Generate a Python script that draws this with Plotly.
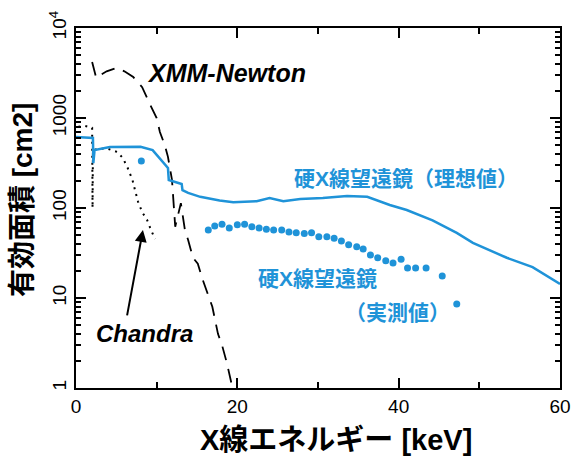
import plotly.graph_objects as go

# --- data ---
ideal_x = [0, 2.1, 2.15, 2.3, 4.2, 8.0, 9.5, 10.5, 11.4, 11.5, 13.1, 13.2, 13.9, 15.4, 17.8, 19.5,
           22.4, 24.0, 25.7, 27.8, 30.6, 33.6, 36.1, 38.9, 41.0, 44.2, 47.2, 49.2, 53.4, 56.6, 60.0]
ideal_y = [615, 600, 315, 440, 475, 480, 440, 340, 278, 205, 185, 158, 147, 133, 121, 116,
           119, 129, 119, 126, 129, 136, 133, 108, 95, 73, 53, 41, 28, 22, 14.3]

meas_x = [8.1, 16.4, 17.2, 18.1, 19.0, 20.0, 20.9, 21.8, 22.7, 23.6, 24.5, 25.5, 26.4, 27.3, 28.3,
          29.2, 30.1, 31.1, 32.0, 32.9, 33.8, 34.8, 35.6, 36.5, 37.4, 38.4, 39.3, 40.3, 41.1, 42.1,
          43.4, 45.4, 47.2]
meas_y = [332, 57, 63, 66, 60, 65, 66, 62, 60, 58, 57, 57, 54, 53, 52,
          53, 48, 48, 46, 43, 39, 37, 35, 30, 28, 26, 24.5, 27, 21.5, 21.5,
          21.5, 17.6, 8.6]

xmm_x = [2.0, 2.5, 3.0, 3.8, 5.0, 6.0, 7.1, 8.2, 9.2, 10.0, 10.4, 11.0, 11.4, 11.9, 12.3,
         13.0, 13.5, 13.9, 14.5, 15.1, 15.7, 16.2, 16.9, 17.6, 18.1, 18.7, 19.1, 19.4]
xmm_y = [4200, 2800, 3000, 3300, 3600, 3300, 2850, 2200, 1400, 1000, 700, 500, 370, 205, 62,
         113, 57, 44, 28, 24, 16, 12, 8, 4, 3, 1.9, 1.3, 1.0]

chandra_x = [0.3, 1.0, 1.5, 2.0, 2.05, 2.1, 2.6, 3.8, 5.1, 5.8, 6.4, 7.0, 7.3, 7.7, 8.2, 8.8, 9.2, 9.8]
chandra_y = [800, 820, 800, 780, 100, 440, 450, 460, 420, 360, 280, 205, 160, 117, 90, 74, 60, 45]

# ticks: labelled (major) and unlabelled (minor)
x_major = [0, 20, 40, 60]
x_minor = [10, 30, 50]
y_major = [1, 10, 100, 1000, 10000]
y_major_text = ["1", "10", "100", "1000", "10<sup>4</sup>"]
y_minor = [m * d for d in (1, 10, 100, 1000) for m in range(2, 10)]

BLUE = "#1f93d8"
TXT = "Liberation Sans, Arial, sans-serif"
JP = "Liberation Sans, Noto Sans CJK JP, sans-serif"

fig = go.Figure()
fig.add_trace(go.Scatter(x=xmm_x, y=xmm_y, mode="lines",
                         line=dict(color="black", width=1.8, dash="14px,9px")))
fig.add_trace(go.Scatter(x=chandra_x, y=chandra_y, mode="lines",
                         line=dict(color="black", width=2, dash="2px,5px")))
fig.add_trace(go.Scatter(x=ideal_x, y=ideal_y, mode="lines",
                         line=dict(color=BLUE, width=2.5)))
fig.add_trace(go.Scatter(x=meas_x, y=meas_y, mode="markers",
                         marker=dict(color=BLUE, size=7)))

fig.add_annotation(x=18.7, y=3.5, text="<b><i>XMM-Newton</i></b>", showarrow=False,
                   font=dict(family=TXT, size=25, color="black"))
fig.add_annotation(x=8.3, y=1.756, ax=6.3, ay=0.79, axref="x", ayref="y",
                   text="", showarrow=True, arrowhead=2, arrowsize=1.2, arrowwidth=2,
                   arrowcolor="black", standoff=0)
fig.add_annotation(x=8.55, y=0.61, text="<b><i>Chandra</i></b>", showarrow=False,
                   font=dict(family=TXT, size=24, color="black"))
fig.add_annotation(x=40.9, y=2.333, text="<b>硬X線望遠鏡（理想値）</b>", showarrow=False,
                   font=dict(family=JP, size=21, color=BLUE))
fig.add_annotation(x=29.9, y=1.222, text="<b>硬X線望遠鏡</b>", showarrow=False,
                   font=dict(family=JP, size=21, color=BLUE))
fig.add_annotation(x=39.9, y=0.844, text="<b>（実測値）</b>", showarrow=False,
                   font=dict(family=JP, size=21, color=BLUE))

# axis titles
fig.add_annotation(xref="paper", yref="paper", x=0.537, y=-0.144, xanchor="center",
                   yanchor="middle", showarrow=False, text="<b>X線エネルギー [keV]</b>",
                   font=dict(family=JP, size=29, color="black"))
fig.add_annotation(xref="paper", yref="paper", x=-0.1116, y=0.522, xanchor="center",
                   yanchor="middle", showarrow=False, textangle=-90,
                   text="<b>有効面積 [cm2]</b>",
                   font=dict(family=JP, size=28, color="black"))

fig.update_layout(
    template="none",
    width=572, height=458,
    margin=dict(l=76, r=12, t=28, b=70, pad=0),
    paper_bgcolor="white", plot_bgcolor="white",
    showlegend=False,
    xaxis=dict(range=[0, 60], tickmode="array", tickvals=x_major,
               ticks="inside", ticklen=10, tickwidth=2, tickcolor="black",
               showline=True, linecolor="black", linewidth=2, mirror="ticks",
               showgrid=False, zeroline=False,
               tickfont=dict(family=TXT, size=19, color="black"),
               minor=dict(tickmode="array", tickvals=x_minor, ticks="inside", ticklen=6,
                          tickwidth=2, tickcolor="black", showgrid=False)),
    yaxis=dict(type="log", range=[0, 4], tickmode="array", tickvals=y_major,
               ticktext=y_major_text, tickangle=-90,
               ticks="inside", ticklen=10, tickwidth=2, tickcolor="black",
               showline=True, linecolor="black", linewidth=2, mirror="ticks",
               showgrid=False, zeroline=False,
               tickfont=dict(family=TXT, size=19, color="black"),
               minor=dict(tickmode="array", tickvals=y_minor, ticks="inside", ticklen=5,
                          tickwidth=1.5, tickcolor="black", showgrid=False)),
)

fig.write_html("out.html")
